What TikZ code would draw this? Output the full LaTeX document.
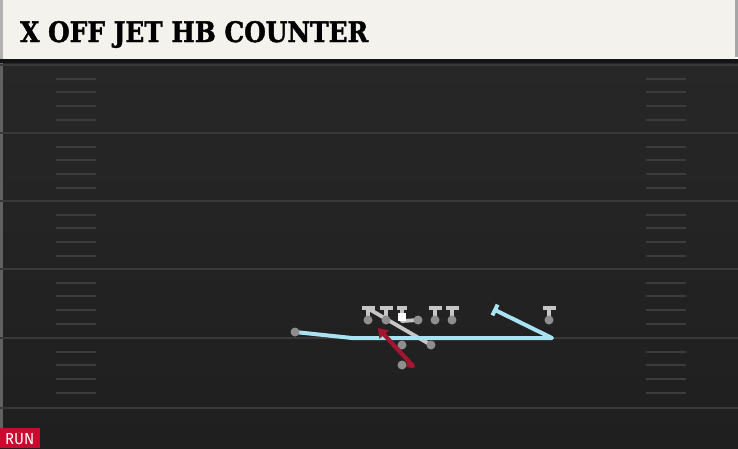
\documentclass[tikz,border=0pt]{standalone}
\usepackage{fontspec}
\usepackage{graphicx}
\usetikzlibrary{arrows.meta,calc}
\newfontfamily\titlefont[FakeBold=1.6]{DejaVu Serif}
\newfontfamily\runfont{Fira Sans}
\definecolor{cream}{HTML}{F4F2EC}
\definecolor{fieldtop}{HTML}{272727}
\definecolor{fieldbot}{HTML}{1F1F1F}
\definecolor{lineg}{HTML}{393939}
\definecolor{hashg}{HTML}{3C3C3C}
\definecolor{blkg}{HTML}{C6C6C6}
\definecolor{dotg}{HTML}{8E8E8E}
\definecolor{routeblue}{HTML}{A9E2F2}
\definecolor{routered}{HTML}{A3162F}
\definecolor{runred}{HTML}{CC0A2F}
\tikzset{
  ydline/.style={draw=lineg, line width=2pt},
  hashmark/.style={draw=hashg, line width=1.8pt},
  blk/.style={draw=blkg, line width=3.8pt, line join=round},
  player/.style={circle, fill=dotg, inner sep=0pt, minimum size=9pt},
  blueroute/.style={draw=routeblue, line width=4pt, line join=round},
  redroute/.style={draw=routered, line width=4.2pt, line join=round, -{Triangle[length=9pt,width=12pt]}},
}
\begin{document}
\begin{tikzpicture}[x=1pt,y=-1pt]
\useasboundingbox (0,0) rectangle (738,448);
% field
\shade[top color=fieldtop, bottom color=fieldbot] (0,59) rectangle (738,448);
\fill[black!92] (0,59) rectangle (738,63);
\fill[lineg!80] (0,63) rectangle (3,448);
% yard lines
\foreach \y in {65,133,201,269,338,408} \draw[ydline] (0,\y) -- (738,\y);
% hash marks
\foreach \y in {65,133,201,269,338} {
  \foreach \d in {14,27,41,55} {
    \draw[hashmark] (56,\y+\d) -- (96,\y+\d);
    \draw[hashmark] (646,\y+\d) -- (686,\y+\d);
  }
}
% header
\fill[cream] (0,0) rectangle (735,59);
\fill[black!30] (0,0) rectangle (3,59);
\fill[black!35] (735,0) rectangle (738,57);
\node[anchor=base west, inner sep=0pt] (title) at (20,42)
  {\resizebox{348pt}{21pt}{\titlefont\bfseries X OFF JET HB COUNTER}};
% player positions
\coordinate (x) at (295,332);
\coordinate (lt) at (368,320);
\coordinate (lg) at (386,320);
\coordinate (c) at (402,317);
\coordinate (rg) at (418,320);
\coordinate (rt) at (435,320);
\coordinate (te) at (452,320);
\coordinate (wr) at (549,320);
\coordinate (qb) at (402,345);
\coordinate (fb) at (431,345);
\coordinate (hb) at (402,365);
% route points
\coordinate (xb) at (352,338);
\coordinate (xc) at (552,338);
\coordinate (xe) at (495,310);
\coordinate (hbb) at (413,366);
\coordinate (hbe) at (378,328);
\coordinate (fbe) at (369,309);
\coordinate (cc) at (402,321);
\coordinate (ct) at (402,308);
% blocks (T)
\foreach \p in {lt,lg,rt,te,wr} {
  \draw[blk] (\p) -- ($(\p)+(0,-12)$);
  \draw[blk] ($(\p)+(-6.5,-12)$) -- ($(\p)+(6.5,-12)$);
}
\draw[blk] (rg) -- (cc) -- (ct);
\draw[blk] ($(ct)+(-5,0)$) -- ($(ct)+(5,0)$);
\draw[blk] (fb) -- (fbe);
% blue jet route
\draw[blueroute] (x) -- (xb) -- (xc) -- (xe);
\draw[blueroute] ($(xe)!6pt!90:(xc)$) -- ($(xe)!6pt!-90:(xc)$);
% players
\foreach \p in {x,lt,lg,rg,rt,te,wr,qb,fb,hb} \node[player] (n\p) at (\p) {};
\node[fill=white, inner sep=0pt, minimum size=8pt] (nc) at (c) {};
% red HB route
\draw[redroute] (nhb.east) -- (hbb) -- (hbe);
% RUN tag
\node[fill=runred, anchor=south west, minimum width=40pt, minimum height=20pt, inner sep=0pt] (run) at (0,448) {};
\node[anchor=base west, inner sep=0pt, text=white] (runtxt) at (5,444) {\resizebox{29pt}{11pt}{\runfont RUN}};
\end{tikzpicture}
\end{document}
